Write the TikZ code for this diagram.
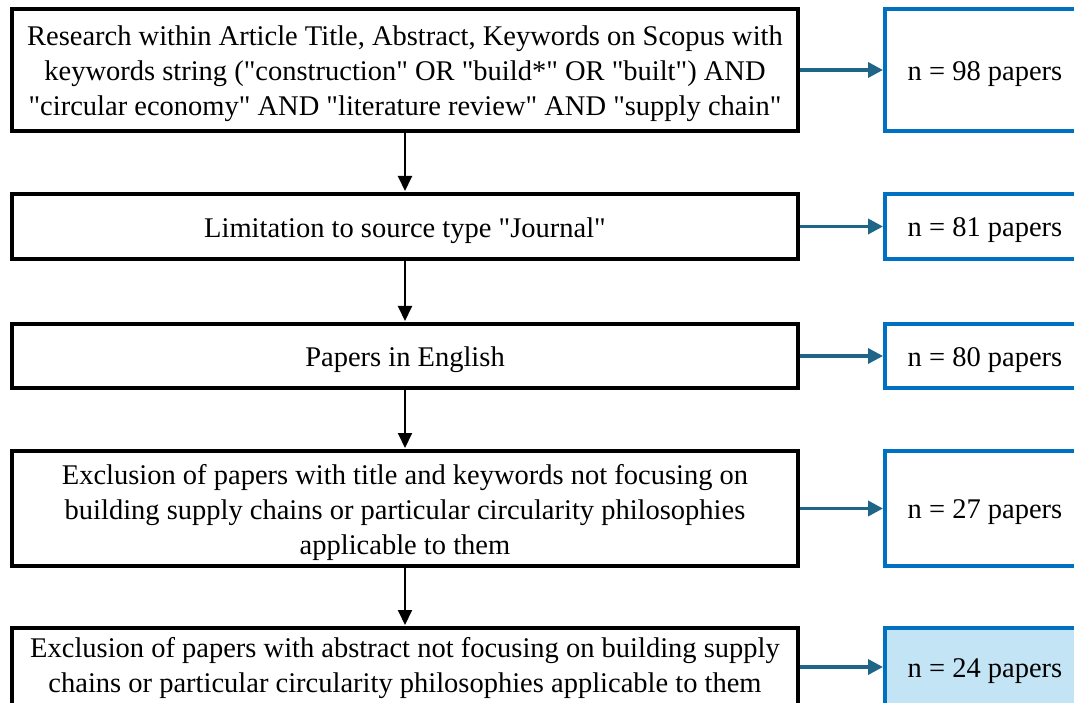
\documentclass[tikz,border=0pt]{standalone}
\usepackage{fontspec}
\setmainfont{Liberation Serif}[Ligatures=TeXOff]
\usetikzlibrary{arrows.meta}
\definecolor{boxblue}{HTML}{0070C0}
\definecolor{arrowteal}{HTML}{1F6587}
\definecolor{lightfill}{HTML}{C2E4F4}
\begin{document}
\begin{tikzpicture}[x=1pt,y=-1pt,
  txt/.style={font=\fontsize{28.5}{35}\selectfont, align=center, inner sep=0pt},
  stepbox/.style={draw=black, line width=4pt, minimum width=786pt, inner sep=0pt},
  countbox/.style={draw=boxblue, line width=4pt, minimum width=200pt, inner sep=0pt},
  downarrow/.style={draw=black, line width=2pt, -{Triangle[length=15pt,width=14pt]}, shorten >=1pt},
  sidearrow/.style={draw=arrowteal, line width=3.5pt, -{Triangle[length=15pt,width=15pt]}, shorten >=0pt}]
\useasboundingbox (0,0) rectangle (1074,703);
\clip (0,0) rectangle (1074,703);
\fill[white] (0,0) rectangle (1074,703);

% step boxes
\node[stepbox, minimum height=122pt] (b1) at (405,70) {};
\node[stepbox, minimum height=65pt] (b2) at (405,226.5) {};
\node[stepbox, minimum height=64pt] (b3) at (405,356) {};
\node[stepbox, minimum height=115pt] (b4) at (405,508.5) {};
\node[stepbox, minimum height=78pt] (b5) at (405,667) {};

\node[txt] (b1t) at ([yshift=-4pt]b1.center)
  {Research within Article Title, Abstract, Keywords on Scopus with\\
   keywords string ("construction" OR "build*" OR "built") AND\\
   "circular economy" AND "literature review" AND "supply chain"};
\node[txt] (b2t) at ([yshift=-4pt]b2.center) {Limitation to source type "Journal"};
\node[txt] (b3t) at ([yshift=-4pt]b3.center) {Papers in English};
\node[txt] (b4t) at ([yshift=-4pt]b4.center)
  {Exclusion of papers with title and keywords not focusing on\\
   building supply chains or particular circularity philosophies\\
   applicable to them};
\node[txt] (b5t) at ([yshift=-1pt]b5.center)
  {Exclusion of papers with abstract not focusing on building supply\\
   chains or particular circularity philosophies applicable to them};

% count boxes
\node[countbox, minimum height=122pt] (c1) at (985,70) {};
\node[countbox, minimum height=65pt] (c2) at (985,226.5) {};
\node[countbox, minimum height=64pt] (c3) at (985,356) {};
\node[countbox, minimum height=115pt] (c4) at (985,508.5) {};
\node[countbox, minimum height=78pt, fill=lightfill] (c5) at (985,667) {};

\node[txt] (c1t) at ([yshift=-4pt]c1.center) {n = 98 papers};
\node[txt] (c2t) at ([yshift=-4pt]c2.center) {n = 81 papers};
\node[txt] (c3t) at ([yshift=-4pt]c3.center) {n = 80 papers};
\node[txt] (c4t) at ([yshift=-4pt]c4.center) {n = 27 papers};
\node[txt] (c5t) at ([yshift=-4pt]c5.center) {n = 24 papers};

\draw[downarrow] (b1.south) -- (b2.north);
\draw[downarrow] (b2.south) -- (b3.north);
\draw[downarrow] (b3.south) -- (b4.north);
\draw[downarrow] (b4.south) -- (b5.north);

\draw[sidearrow] (b1.east) -- (c1.west);
\draw[sidearrow] (b2.east) -- (c2.west);
\draw[sidearrow] (b3.east) -- (c3.west);
\draw[sidearrow] (b4.east) -- (c4.west);
\draw[sidearrow] (b5.east) -- (c5.west);
\end{tikzpicture}
\end{document}
